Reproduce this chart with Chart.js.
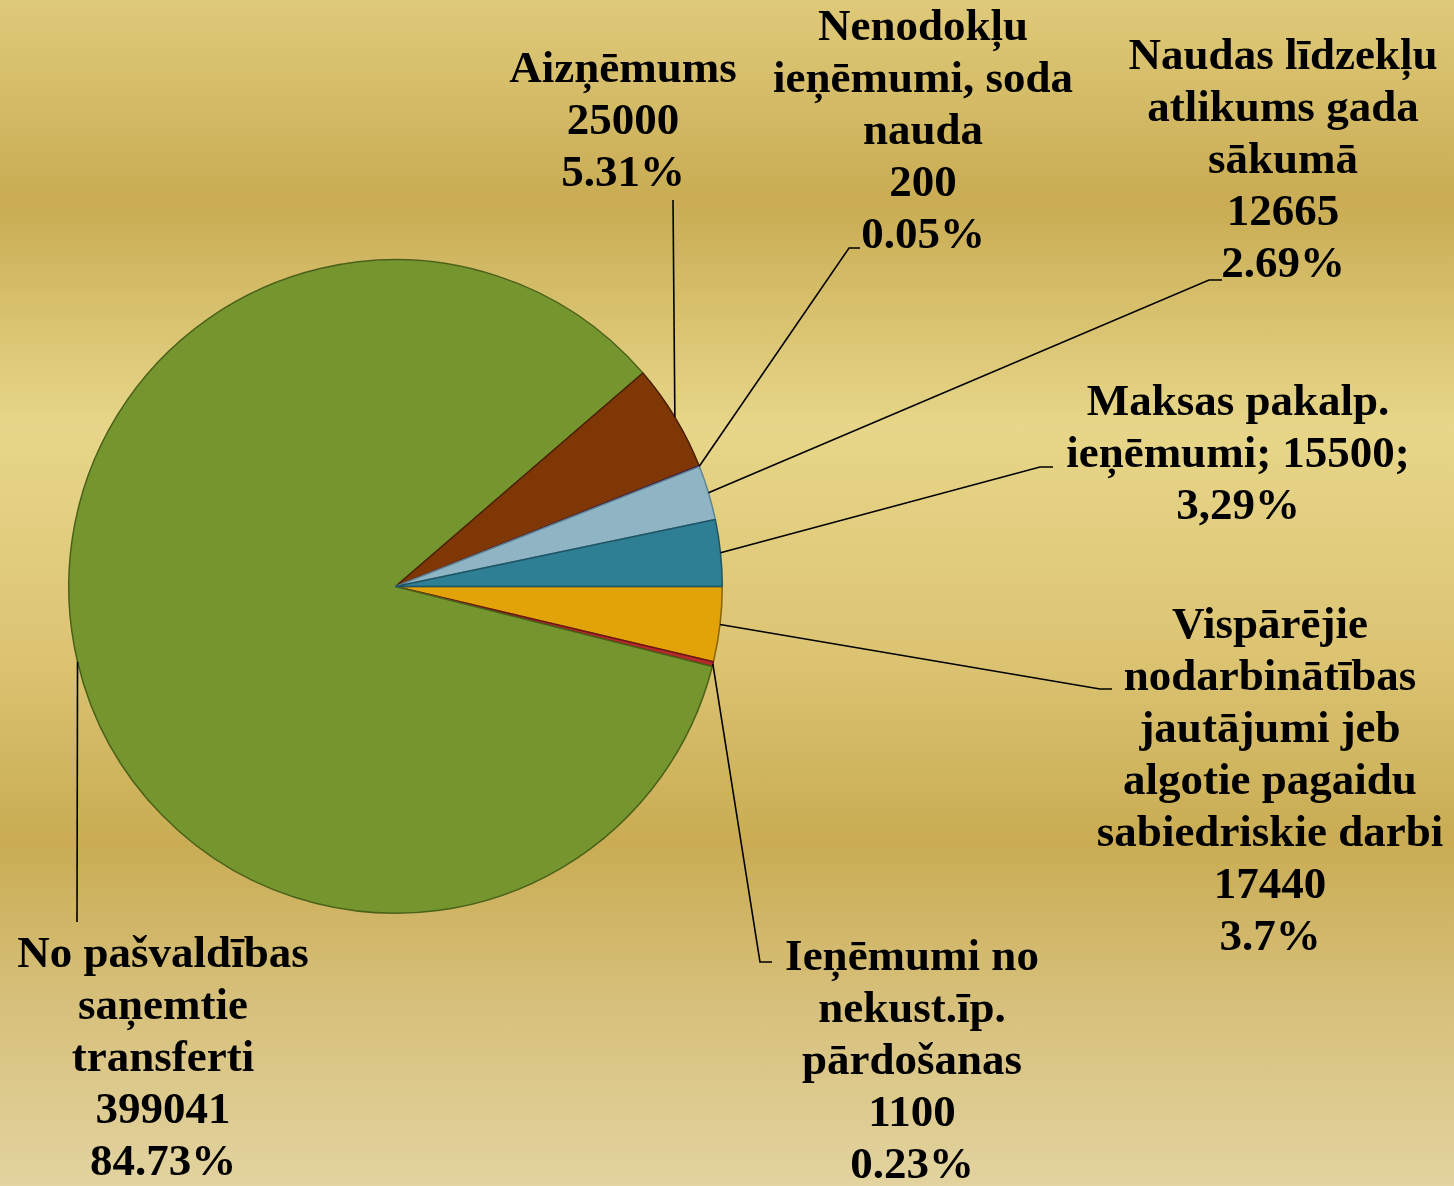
<!DOCTYPE html>
<html>
<head>
<meta charset="utf-8">
<title>Ieņēmumi</title>
<script src="https://cdn.jsdelivr.net/npm/chart.js@4"></script>
<style>
    html, body {
        margin: 0;
        padding: 0;
    }
    body {
        width: 1454px;
        height: 1186px;
        overflow: hidden;
        background: linear-gradient(to bottom,
            #dfca7a 0%,
            #c9ac53 17%,
            #e7d689 36%,
            #dcc473 55%,
            #c9ac53 71%,
            #d6bf79 84%,
            #e2d39f 100%);
    }
    #wrap {
        position: relative;
        width: 1454px;
        height: 1186px;
    }
</style>
</head>
<body>
<div id="wrap"><canvas id="pie"></canvas></div>
<script>
// Slices, clockwise from 3 o'clock
const categories = [
    'Vispārējie\nnodarbinātības\njautājumi jeb\nalgotie pagaidu\nsabiedriskie darbi',
    'Ieņēmumi no\nnekust.īp.\npārdošanas',
    'No pašvaldības\nsaņemtie\ntransferti',
    'Aizņēmums',
    'Nenodokļu\nieņēmumi, soda\nnauda',
    'Naudas līdzekļu\natlikums gada\nsākumā',
    'Maksas pakalp.\nieņēmumi',
];
const values = [17440, 1100, 399041, 25000, 200, 12665, 15500];
const percentLabels = ['3.7%', '0.23%', '84.73%', '5.31%', '0.05%', '2.69%', '3,29%'];
// 'stack' = name / value / percent on own lines, 'inline' = "name; value;" then percent
const labelStyles = ['stack', 'stack', 'stack', 'stack', 'stack', 'stack', 'inline'];

const fills = ['#e2a309', '#b42b2a', '#75962e', '#7f3705', '#6e3f8a', '#8fb4c3', '#2e7f93'];
const borders = ['#8a6400', '#6e1515', '#4b6119', '#4a1f00', '#3f2050', '#5f8595', '#1d5565'];

function buildLabel(i) {
    const nameLines = categories[i].split('\n');
    if (labelStyles[i] === 'inline') {
        const last = nameLines.pop();
        return [...nameLines, last + '; ' + values[i] + ';', percentLabels[i]];
    }
    return [...nameLines, String(values[i]), percentLabels[i]];
}

// where each label sits (center x, first line y) and where its leader bends
const labelPos = [
    [1270, 626], [912, 958], [163, 955], [623, 70], [923, 28], [1283, 57], [1238, 403]
];
const leaders = [
    [[1100, 689], [1112, 689]],
    [[760, 962], [772, 962]],
    [[77, 922]],
    [[673, 200]],
    [[849, 248], [860, 248]],
    [[1209, 280], [1222, 280]],
    [[1040, 467], [1053, 467]],
];
const LINE_H = 52;

const calloutPlugin = {
    id: 'callouts',
    afterDatasetsDraw(chart) {
        const ctx = chart.ctx;
        const arcs = chart.getDatasetMeta(0).data;
        ctx.save();
        ctx.strokeStyle = '#000';
        ctx.lineWidth = 1.6;
        arcs.forEach((arc, i) => {
            const { x, y, startAngle, endAngle, outerRadius } = arc.getProps(
                ['x', 'y', 'startAngle', 'endAngle', 'outerRadius'], true);
            const mid = (startAngle + endAngle) / 2;
            ctx.beginPath();
            ctx.moveTo(x + Math.cos(mid) * outerRadius, y + Math.sin(mid) * outerRadius);
            leaders[i].forEach(([px, py]) => ctx.lineTo(px, py));
            ctx.stroke();
        });

        ctx.fillStyle = '#000';
        ctx.font = "bold 45px 'Liberation Serif', serif";
        ctx.textAlign = 'center';
        ctx.textBaseline = 'middle';
        arcs.forEach((arc, i) => {
            const [lx, ly] = labelPos[i];
            buildLabel(i).forEach((line, k) => {
                ctx.fillText(line, lx, ly + k * LINE_H);
            });
        });
        ctx.restore();
    }
};

const canvas = document.getElementById('pie');
new Chart(canvas.getContext('2d'), {
    type: 'pie',
    data: {
        labels: categories,
        datasets: [{
            data: values,
            backgroundColor: fills,
            borderColor: borders,
            borderWidth: 1.5,
        }]
    },
    options: {
        responsive: true,
        maintainAspectRatio: false,
        animation: false,
        rotation: 90,
        layout: {
            padding: { left: 68, right: 731, top: 259, bottom: 272 }
        },
        plugins: {
            legend: { display: false },
            tooltip: { enabled: false }
        }
    },
    plugins: [calloutPlugin]
});
</script>
</body>
</html>
